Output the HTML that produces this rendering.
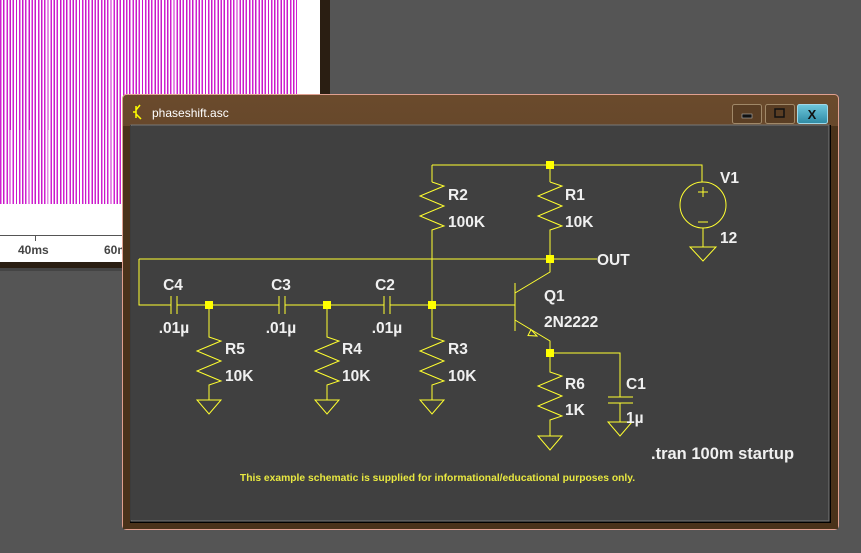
<!DOCTYPE html>
<html><head><meta charset="utf-8"><style>
html,body{margin:0;padding:0;width:861px;height:553px;overflow:hidden;background:#555555;font-family:"Liberation Sans",sans-serif;}
.plot{position:absolute;left:0;top:0;width:320px;height:262px;background:#fff;}
.stripes{position:absolute;left:0;top:0;width:297px;height:204px;background:repeating-linear-gradient(90deg,#d020d0 0 1.5px,#fff 1.5px 3.2px,#c818c8 3.2px 4.6px,#fff 4.6px 6.3px);}
.stripes2{position:absolute;left:0;top:130px;width:297px;height:74px;background:repeating-linear-gradient(90deg,#fff0 0 10px,#fff 10px 11.5px,#fff0 11.5px 19px);opacity:.5}
</style></head><body>
<div class="plot"><div class="stripes"></div><div class="stripes2"></div>
<div style="position:absolute;left:0;top:235px;width:122px;height:1px;background:#555"></div>
<div style="position:absolute;left:35px;top:235px;width:1px;height:6px;background:#555"></div>
<div style="position:absolute;left:18px;top:243px;font:bold 12px 'Liberation Sans',sans-serif;color:#444">40ms</div>
<div style="position:absolute;left:104px;top:243px;font:bold 12px 'Liberation Sans',sans-serif;color:#444">60m</div>
</div>
<div style="position:absolute;left:0;top:262px;width:330px;height:6px;background:#2a1e12"></div>
<div style="position:absolute;left:320px;top:0;width:10px;height:268px;background:#2a1e12"></div>
<div style="position:absolute;left:0;top:268px;width:330px;height:3px;background:#444"></div>
<svg width="861" height="553" style="position:absolute;left:0;top:0">
<defs><linearGradient id="tb" x1="0" y1="0" x2="0" y2="1"><stop offset="0" stop-color="#6a4a2c"/><stop offset="1" stop-color="#4a321c"/></linearGradient>
<linearGradient id="xb" x1="0" y1="0" x2="0" y2="1"><stop offset="0" stop-color="#6fc8dc"/><stop offset="1" stop-color="#2e8aa4"/></linearGradient></defs>
<rect x="122.5" y="94.5" width="716" height="435" rx="4" fill="url(#tb)" stroke="#e0a090"/>
<rect x="123" y="126" width="715" height="403" fill="#4a321a"/>
<rect x="130" y="125" width="701" height="398" fill="#000"/>
<rect x="131" y="125" width="698" height="396" fill="#404040" stroke="#777" stroke-width="1"/>
<rect x="131" y="126" width="697" height="394" fill="#404040"/>
<g stroke="#a08868" fill="#5a3e24"><rect x="732.5" y="104.5" width="29" height="19" rx="2"/><rect x="765.5" y="104.5" width="29" height="19" rx="2"/></g>
<rect x="797.5" y="104.5" width="30" height="19" rx="2" fill="url(#xb)" stroke="#a0d8e8"/>
<rect x="742" y="114" width="10" height="4" fill="#111" stroke="#ccc" stroke-width=".5"/>
<rect x="775" y="109" width="9" height="8" fill="none" stroke="#111" stroke-width="1.5"/>
<text x="812" y="119" text-anchor="middle" font-family="Liberation Sans" font-weight="bold" font-size="13" fill="#111">X</text>
<text x="152" y="117" font-family="Liberation Sans" font-size="12" fill="#fff">phaseshift.asc</text>
<path d="M136 106 v12 M136 112 h-3 M136 110 l4 -5 M136 114 l5 5" stroke="#ff0" stroke-width="1.5" fill="none"/>
<g stroke="#ffff30" stroke-width="1" fill="none">
<path d="M432 165H702V182M432 165V182M550 165V182"/>
<path d="M432 182l12 4l-24 10l24 10l-24 10l24 10l-12 4V305"/>
<path d="M550 182l12 4l-24 10l24 10l-24 10l24 10l-12 4V272L515 293"/>
<path d="M139 259H597M139 259V305H171M177 305H279M285 305H384M390 305H515"/>
<path d="M171 296v18M177 296v18M279 296v18M285 296v18M384 296v18M390 296v18"/>
<path d="M515 283V331M515 320L550 341V353H620V397M608 397H633M608 403H633M620 403V422"/>
<path d="M531 329.5l-3 6l9 0.5z" fill="none"/>
<path d="M209 305V337l12 4l-24 10l24 10l-24 10l24 10l-12 4V400M327 305V337l12 4l-24 10l24 10l-24 10l24 10l-12 4V400M432 305V337l12 4l-24 10l24 10l-24 10l24 10l-12 4V400"/>
<path d="M550 353V372l12 4l-24 10l24 10l-24 10l24 10l-12 4V436"/>
<path d="M197 400h24l-12 14zM315 400h24l-12 14zM420 400h24l-12 14zM538 436h24l-12 14zM608 422h24l-12 14zM690 247h26l-13 14z"/>
<circle cx="703" cy="205" r="23"/>
<path d="M703 228V247M698 192h10M703 187v10M698 222h10"/>
</g>
<g fill="#ffff00"><rect x="546" y="161" width="8" height="8"/><rect x="546" y="255" width="8" height="8"/><rect x="205" y="301" width="8" height="8"/><rect x="323" y="301" width="8" height="8"/><rect x="428" y="301" width="8" height="8"/><rect x="546" y="349" width="8" height="8"/></g>
<g font-family="Liberation Sans" font-weight="bold" font-size="15.5" fill="#f0f0f0">
<text x="448" y="200">R2</text><text x="448" y="227">100K</text>
<text x="565" y="200">R1</text><text x="565" y="227">10K</text>
<text x="720" y="183">V1</text><text x="720" y="243">12</text>
<text x="597" y="265">OUT</text>
<text x="544" y="301">Q1</text><text x="544" y="327">2N2222</text>
<text x="173" y="290" text-anchor="middle">C4</text><text x="174" y="333" text-anchor="middle">.01µ</text>
<text x="281" y="290" text-anchor="middle">C3</text><text x="281" y="333" text-anchor="middle">.01µ</text>
<text x="385" y="290" text-anchor="middle">C2</text><text x="387" y="333" text-anchor="middle">.01µ</text>
<text x="225" y="354">R5</text><text x="225" y="381">10K</text>
<text x="342" y="354">R4</text><text x="342" y="381">10K</text>
<text x="448" y="354">R3</text><text x="448" y="381">10K</text>
<text x="565" y="389">R6</text><text x="565" y="415">1K</text>
<text x="626" y="389">C1</text><text x="626" y="423">1µ</text>
<text x="651" y="459" font-size="16.5">.tran 100m startup</text>
</g>
<text x="437.5" y="481" text-anchor="middle" font-family="Liberation Sans" font-weight="bold" font-size="10.3" fill="#e8e840">This example schematic is supplied for informational/educational purposes only.</text>
</svg>
</body></html>
